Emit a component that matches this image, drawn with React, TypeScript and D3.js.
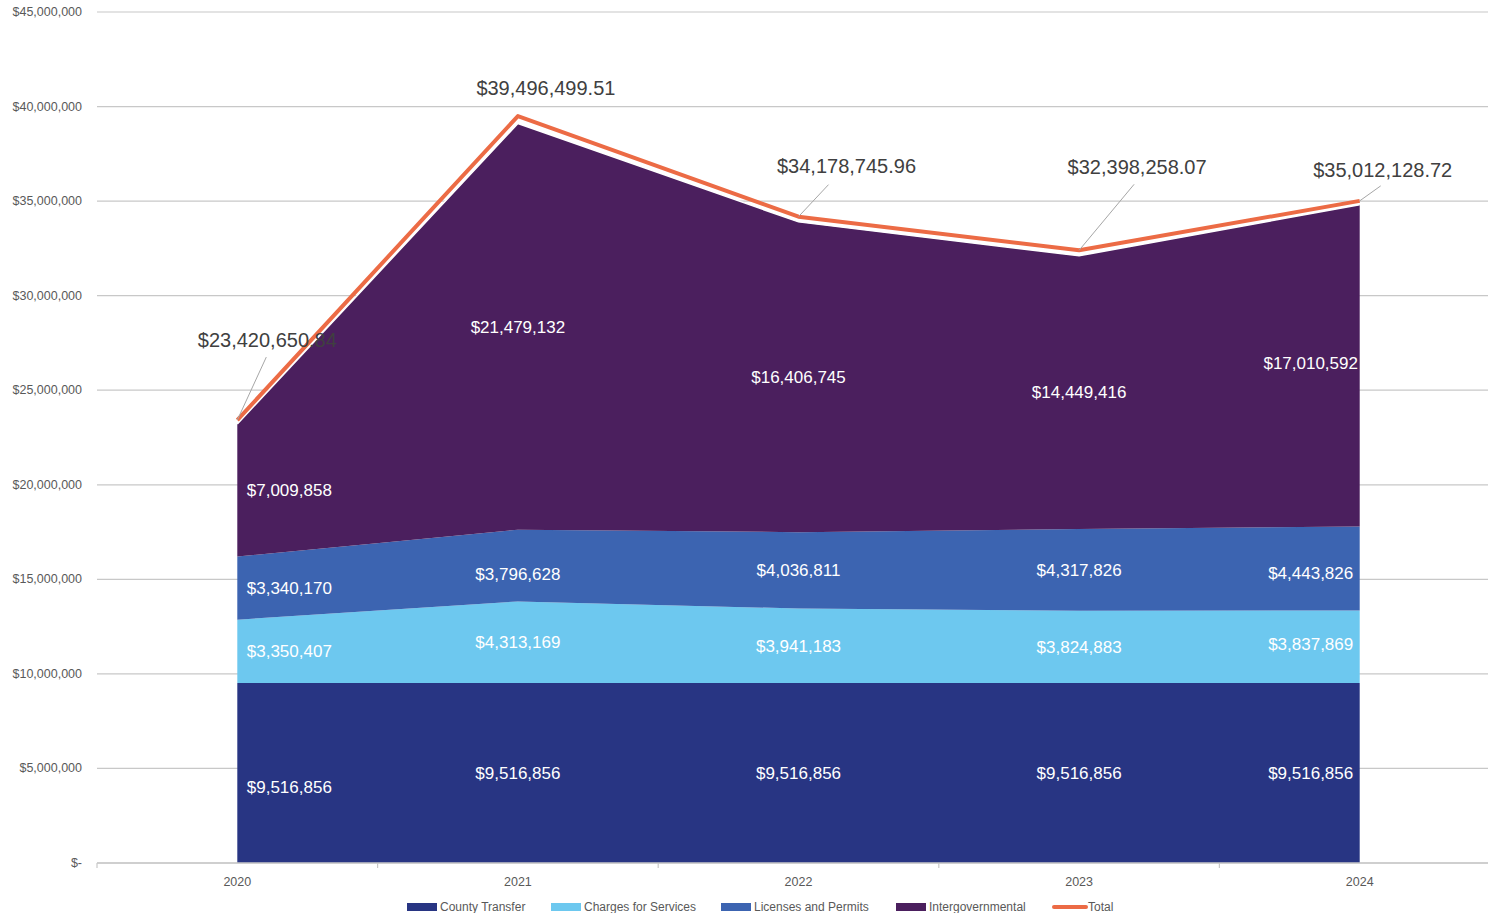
import { useEffect, useRef } from 'react';
import * as d3 from 'd3';

const years = ['2020', '2021', '2022', '2023', '2024'];
const countyTransfer = [9516856, 9516856, 9516856, 9516856, 9516856];
const chargesForServices = [3350407, 4313169, 3941183, 3824883, 3837869];
const licensesAndPermits = [3340170, 3796628, 4036811, 4317826, 4443826];
const intergovernmental = [7009858, 21479132, 16406745, 14449416, 17010592];
const totals = [23420650.84, 39496499.51, 34178745.96, 32398258.07, 35012128.72];
const yTicks = [0, 5000000, 10000000, 15000000, 20000000, 25000000, 30000000, 35000000, 40000000, 45000000];

const seriesNames = ['County Transfer', 'Charges for Services', 'Licenses and Permits', 'Intergovernmental'];
const seriesValues = [countyTransfer, chargesForServices, licensesAndPermits, intergovernmental];
const seriesColors = ['#283583', '#6dc8ef', '#3c64b1', '#4b1f5e'];
const totalColor = '#ec6b45';

const App = () => {
  const svgRef = useRef<SVGSVGElement>(null);

  useEffect(() => {
    const W = 1488;
    const H = 913;
    const svg = d3.select(svgRef.current);
    svg.selectAll('*').remove();
    svg.attr('width', W).attr('height', H);

    const font = '"Liberation Sans", Arial, sans-serif';
    const left = 97;
    const x = d3.scaleBand().domain(years).range([left, 1500]);
    const cx = (d: string) => (x(d) as number) + x.bandwidth() / 2;
    const y = d3.scaleLinear().domain([0, 45000000]).range([863, 12]);

    // gridlines
    svg.append('g')
      .selectAll('line')
      .data(yTicks)
      .join('line')
      .attr('x1', left)
      .attr('x2', W)
      .attr('y1', d => y(d))
      .attr('y2', d => y(d))
      .attr('stroke', '#c8c8c8')
      .attr('stroke-width', 1.2);

    // y labels
    const money = d3.format(',');
    svg.append('g')
      .selectAll('text')
      .data(yTicks)
      .join('text')
      .attr('x', 82)
      .attr('y', d => y(d) + 4)
      .attr('text-anchor', 'end')
      .style('font-family', font)
      .style('font-size', '12.5px')
      .attr('fill', '#595959')
      .text(d => (d === 0 ? '$-' : '$' + money(d)));

    // stacked data
    const table = years.map((yr, i) => {
      const row: any = { year: yr };
      seriesNames.forEach((n, k) => (row[n] = seriesValues[k][i]));
      return row;
    });
    const stack = d3.stack().keys(seriesNames)(table);

    const area = d3
      .area<any>()
      .x(d => cx(d.data.year))
      .y0(d => y(d[0]))
      .y1(d => y(d[1]));

    svg.append('g')
      .selectAll('path')
      .data(stack)
      .join('path')
      .attr('d', d => area(d as any))
      .attr('fill', (_, i) => seriesColors[i]);

    // outline at top of stack
    const topLine = d3
      .line<any>()
      .x(d => cx(d.data.year))
      .y(d => y(d[1]));
    svg.append('path')
      .datum(stack[3])
      .attr('d', topLine as any)
      .attr('fill', 'none')
      .attr('stroke', '#ffffff')
      .attr('stroke-width', 1.5);

    // segment labels (placed at the middle of each band, nudged like Excel does)
    stack.forEach((s, k) => {
      s.forEach((d, i) => {
        let lx = cx(years[i]);
        if (i === 0) lx += 52;
        if (i === years.length - 1) lx -= 49;
        let ly = y((d[0] + d[1]) / 2);
        if (k === 0 && i === 0) ly += 14;
        if (k === 2 && i === 1) ly += 8;
        if (k === 2 && i === 4) ly += 5;
        if (k === 1 && i === 4) ly -= 3;
        if (k === 3 && i === 4) ly -= 3;
        svg.append('text')
          .attr('x', lx)
          .attr('y', ly + 6)
          .attr('text-anchor', 'middle')
          .style('font-family', font)
          .style('font-size', '17px')
          .attr('fill', '#ffffff')
          .text('$' + money(seriesValues[k][i]));
      });
    });

    // axis
    svg.append('line')
      .attr('x1', left)
      .attr('x2', W)
      .attr('y1', y(0))
      .attr('y2', y(0))
      .attr('stroke', '#c8c8c8')
      .attr('stroke-width', 1.5);
    svg.append('g')
      .selectAll('line')
      .data(years)
      .join('line')
      .attr('x1', d => x(d) as number)
      .attr('x2', d => x(d) as number)
      .attr('y1', y(0))
      .attr('y2', y(0) + 5)
      .attr('stroke', '#c8c8c8')
      .attr('stroke-width', 1.2);
    svg.append('g')
      .selectAll('text')
      .data(years)
      .join('text')
      .attr('x', d => cx(d))
      .attr('y', 886)
      .attr('text-anchor', 'middle')
      .style('font-family', font)
      .style('font-size', '12.5px')
      .attr('fill', '#595959')
      .text(d => d);

    // total line
    const totalLine = d3
      .line<number>()
      .x((_, i) => cx(years[i]))
      .y(d => y(d));
    svg.append('path')
      .datum(totals)
      .attr('d', totalLine)
      .attr('fill', 'none')
      .attr('stroke', totalColor)
      .attr('stroke-width', 4)
      .attr('stroke-linejoin', 'round');

    // total labels with leaders
    const labelOffset = [
      [30, -80],
      [28, -28],
      [48, -51],
      [58, -83],
      [23, -31],
    ];
    const leaderEnd = [
      [29, -63],
      [0, 0],
      [30, -32],
      [55, -66],
      [21, -15],
    ];
    totals.forEach((t, i) => {
      const px = cx(years[i]);
      const py = y(t);
      if (i !== 1) {
        svg.append('line')
          .attr('x1', px)
          .attr('y1', py)
          .attr('x2', px + leaderEnd[i][0])
          .attr('y2', py + leaderEnd[i][1])
          .attr('stroke', '#a6a6a6')
          .attr('stroke-width', 1);
      }
      svg.append('text')
        .attr('x', px + labelOffset[i][0])
        .attr('y', py + labelOffset[i][1] + 7)
        .attr('text-anchor', 'middle')
        .style('font-family', font)
        .style('font-size', '20px')
        .attr('fill', '#404040')
        .text('$' + d3.format(',.2f')(t));
    });

    // legend
    const legendItems = [...seriesNames, 'Total'];
    const legendColors = [...seriesColors, totalColor];
    const legendX = [407, 551, 721, 896, 1054];
    const lg = svg.append('g');
    legendItems.forEach((name, i) => {
      if (name === 'Total') {
        lg.append('line')
          .attr('x1', legendX[i])
          .attr('x2', legendX[i] + 32)
          .attr('y1', 907)
          .attr('y2', 907)
          .attr('stroke', legendColors[i])
          .attr('stroke-width', 4)
          .attr('stroke-linecap', 'round');
      } else {
        lg.append('rect')
          .attr('x', legendX[i])
          .attr('y', 903)
          .attr('width', 30)
          .attr('height', 8)
          .attr('fill', legendColors[i]);
      }
      lg.append('text')
        .attr('x', legendX[i] + (name === 'Total' ? 34 : 33))
        .attr('y', 911)
        .style('font-family', font)
        .style('font-size', '12px')
        .attr('fill', '#595959')
        .text(name);
    });
  }, []);

  return (
    <svg
      ref={svgRef}
      style={{ position: 'absolute', left: 0, top: 0, display: 'block' }}
    />
  );
};

export default App;
